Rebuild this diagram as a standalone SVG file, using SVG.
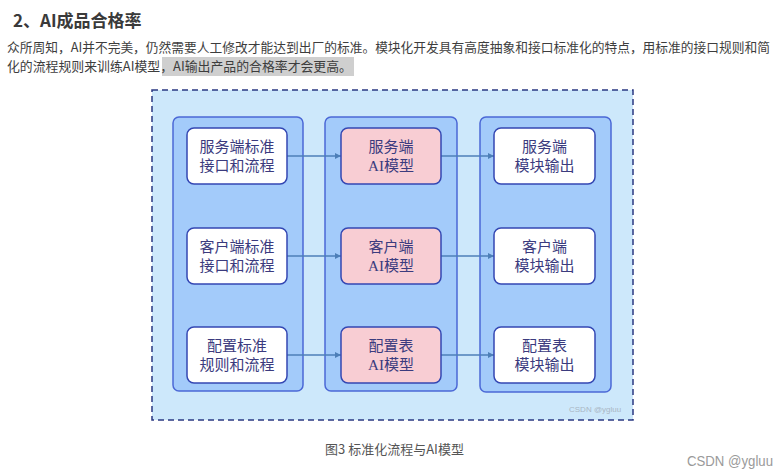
<svg xmlns="http://www.w3.org/2000/svg" width="779" height="475" viewBox="0 0 779 475">
<style>
.h{font-family:"Noto Sans CJK SC","Liberation Sans",sans-serif;font-weight:bold;font-size:17px;fill:#3a3a3a}
.p{font-family:"Noto Sans CJK SC","Liberation Sans",sans-serif;font-size:13px;fill:#3d3d3d}
.cap{font-family:"Noto Sans CJK SC","Liberation Sans",sans-serif;font-size:13px;fill:#555555}
.wm{font-family:"Liberation Sans","Noto Sans CJK SC",sans-serif;fill:#9a9a9a}
.col{fill:#a3cbfa;stroke:#4b68d6;stroke-width:1.5}
.nw{fill:#ffffff;stroke:#3447b3;stroke-width:1.5}
.np{fill:#f8cdd3;stroke:#3447b3;stroke-width:1.5}
.t{font-family:"Liberation Serif","Noto Sans CJK SC",serif;font-size:15px;fill:#3b3b7e;text-anchor:middle}
.c{stroke:#4d7fb8;stroke-width:1.3;fill:none;marker-end:url(#ah)}
</style>
<defs>
<marker id="ah" viewBox="0 0 10 10" refX="10" refY="5" markerWidth="6" markerHeight="6" markerUnits="userSpaceOnUse" orient="auto">
<path d="M0,0 L10,5 L0,10 Z" fill="#4d7fb8"/>
</marker>
</defs>
<rect width="779" height="475" fill="#ffffff"/>
<text class="h" x="13" y="27">2、AI成品合格率</text>
<text class="p" x="7" y="52" font-size="12.6" style="font-size:12.6px" textLength="763" lengthAdjust="spacingAndGlyphs">众所周知，AI并不完美，仍然需要人工修改才能达到出厂的标准。模块化开发具有高度抽象和接口标准化的特点，用标准的接口规则和简</text>
<rect x="162" y="57" width="192" height="19" fill="#cfcfcf"/>
<text class="p" x="7" y="71" textLength="345" lengthAdjust="spacingAndGlyphs">化的流程规则来训练AI模型，AI输出产品的合格率才会更高。</text>

<g id="frame">
<rect x="152" y="90" width="481" height="330" fill="#cde8fb" stroke="#2a3882" stroke-width="1.5" stroke-dasharray="6 4"/>
<text class="wm" x="569" y="412" font-size="8" style="fill:#a9b6c4">CSDN @ygluu</text>
</g>

<g id="col1"><rect class="col" x="173" y="117" width="130" height="274" rx="6"/></g>
<g id="col2"><rect class="col" x="325" y="117" width="132" height="274" rx="6"/></g>
<g id="col3"><rect class="col" x="480" y="117" width="131" height="275" rx="6"/></g>

<g id="connectors">
<path class="c" d="M287,156 H341"/>
<path class="c" d="M287,256 H341"/>
<path class="c" d="M287,355 H341"/>
<path class="c" d="M441,156 H494"/>
<path class="c" d="M441,256 H494"/>
<path class="c" d="M441,355 H494"/>
</g>

<g id="n1"><rect class="nw" x="187" y="128" width="100" height="56" rx="7"/><text class="t" x="237" y="151.5">服务端标准</text><text class="t" x="237" y="170.5">接口和流程</text></g>
<g id="n2"><rect class="nw" x="187" y="228" width="100" height="56" rx="7"/><text class="t" x="237" y="251.5">客户端标准</text><text class="t" x="237" y="270.5">接口和流程</text></g>
<g id="n3"><rect class="nw" x="187" y="327" width="100" height="56" rx="7"/><text class="t" x="237" y="350.5">配置标准</text><text class="t" x="237" y="369.5">规则和流程</text></g>

<g id="m1"><rect class="np" x="341" y="128" width="100" height="56" rx="7"/><text class="t" x="391" y="151.5">服务端</text><text class="t" x="391" y="170.5">AI模型</text></g>
<g id="m2"><rect class="np" x="341" y="228" width="100" height="56" rx="7"/><text class="t" x="391" y="251.5">客户端</text><text class="t" x="391" y="270.5">AI模型</text></g>
<g id="m3"><rect class="np" x="341" y="327" width="100" height="56" rx="7"/><text class="t" x="391" y="350.5">配置表</text><text class="t" x="391" y="369.5">AI模型</text></g>

<g id="o1"><rect class="nw" x="494" y="128" width="101" height="56" rx="7"/><text class="t" x="544.5" y="151.5">服务端</text><text class="t" x="544.5" y="170.5">模块输出</text></g>
<g id="o2"><rect class="nw" x="494" y="228" width="101" height="56" rx="7"/><text class="t" x="544.5" y="251.5">客户端</text><text class="t" x="544.5" y="270.5">模块输出</text></g>
<g id="o3"><rect class="nw" x="494" y="327" width="101" height="56" rx="7"/><text class="t" x="544.5" y="350.5">配置表</text><text class="t" x="544.5" y="369.5">模块输出</text></g>

<text class="cap" x="394.5" y="454" text-anchor="middle">图3 标准化流程与AI模型</text>
<text class="wm" x="687" y="466" font-size="14" textLength="86" lengthAdjust="spacingAndGlyphs">CSDN @ygluu</text>
</svg>
